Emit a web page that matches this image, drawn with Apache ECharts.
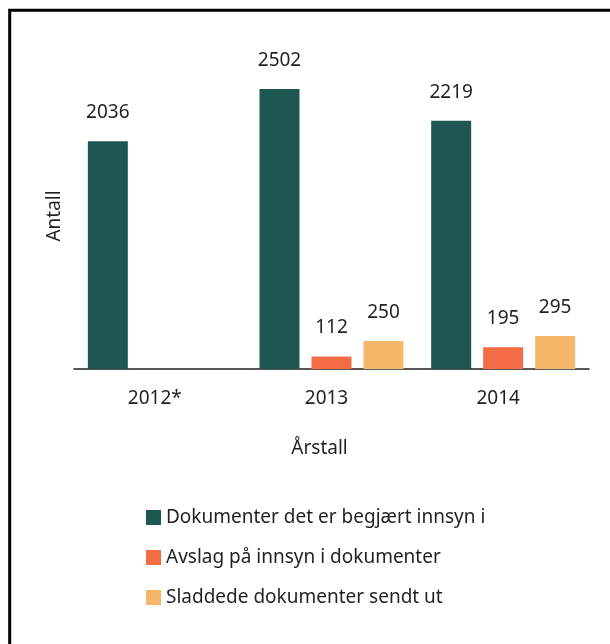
<!DOCTYPE html>
<html>
<head>
<meta charset="utf-8">
<script src="https://cdn.jsdelivr.net/npm/echarts@6/dist/echarts.min.js"></script>
<style>html,body{margin:0;padding:0;background:#fff;}#c{width:610px;height:644px;}</style>
</head>
<body>
<div id="c"></div>
<script>
const categories = ['2012*', '2013', '2014'];
const seriesNames = ['Dokumenter det er begjært innsyn i', 'Avslag på innsyn i dokumenter', 'Sladdede dokumenter sendt ut'];
const requested = [2036, 2502, 2219];
const refused = [null, 112, 195];
const redacted = [null, 250, 295];
const colors = ['#1e5752', '#f36c46', '#f5b86a'];
const FONT = 'Noto Sans';

const chart = echarts.init(document.getElementById('c'), null, {renderer: 'canvas'});
const label = {show: true, position: 'top', distance: 19, fontFamily: FONT, fontSize: 19, color: '#231f20'};
const mk = (name, data, color) => ({
  name, type: 'bar', data, barWidth: 40, barGap: '30%',
  itemStyle: {color}, label, emphasis: {disabled: true}
});
chart.setOption({
  animation: false,
  textStyle: {fontFamily: FONT},
  grid: {left: 74, right: 21, top: 33.3, bottom: 275},
  xAxis: {
    type: 'category', data: categories,
    axisLine: {lineStyle: {color: '#231f20', width: 1.5}},
    axisTick: {show: false},
    axisLabel: {margin: 20, fontFamily: FONT, fontSize: 19, color: '#231f20', padding: [0, 10, 0, 0]},
    name: 'Årstall', nameLocation: 'middle', nameGap: 70,
    nameTextStyle: {fontFamily: FONT, fontSize: 19, color: '#231f20', padding: [0, 24, 0, 0]}
  },
  yAxis: {
    type: 'value', min: 0, max: 3000,
    axisLine: {show: false}, axisTick: {show: false}, axisLabel: {show: false}, splitLine: {show: false}
  },
  legend: {
    orient: 'vertical', left: 141, top: 503, itemWidth: 15, itemHeight: 15, itemGap: 21,
    icon: 'rect', selectedMode: false,
    textStyle: {fontFamily: FONT, fontSize: 19, color: '#231f20'},
    data: seriesNames
  },
  series: [mk(seriesNames[0], requested, colors[0]), mk(seriesNames[1], refused, colors[1]), mk(seriesNames[2], redacted, colors[2])],
  graphic: [
    {type: 'polyline', shape: {points: [[9.7, 644], [9.7, 10.3], [610, 10.3]]}, style: {stroke: '#000', lineWidth: 3, fill: null}},
    {type: 'text', x: 55, y: 216, rotation: Math.PI / 2,
     style: {text: 'Antall', fontFamily: FONT, fontSize: 19, fill: '#231f20', align: 'center', verticalAlign: 'middle'}}
  ]
});
</script>
</body>
</html>
